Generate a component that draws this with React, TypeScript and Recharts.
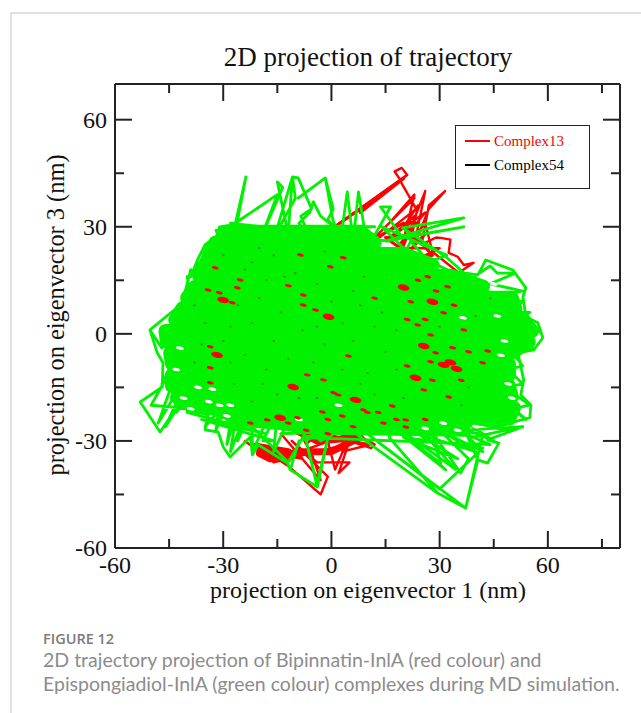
import { ComposedChart, Label, Legend, Line, XAxis, YAxis } from "recharts";

type Pt = [number, number];

const xTicks = [-60, -45, -30, -15, 0, 15, 30, 45, 60, 75];
const yTicks = [-60, -45, -30, -15, 0, 15, 30, 45, 60];

const SERIF = "'Liberation Serif', serif";

// body of the green cloud, read row by row (nearly solid in the picture)
const greenBody: Pt[] = [
  [-29.4, 28.6], [8, 28.6], [12, 25.5], [-32.2, 25.5], [-33.9, 22.4], [20, 22.4],
  [28, 19.3], [-35, 19.3], [-36.7, 16.3], [33, 16.3], [42, 13.2], [-37.8, 13.2],
  [-40, 10.1], [50, 10.1], [51, 7], [-41.4, 7], [-43.3, 3.9], [53.3, 3.9],
  [55.6, 0.8], [-46, 0.8], [-45.6, -2.2], [54.7, -2.2], [50, -5.3], [-44.7, -5.3],
  [-44.2, -8.4], [49.2, -8.4], [49.2, -11.5], [-44.2, -11.5], [-44.2, -14.6], [49.2, -14.6],
  [50, -17.7], [-42.8, -17.7], [-37.2, -20.7], [50.6, -20.7], [49.2, -23.8], [-27.5, -23.8],
  [2, -26.4], [36.7, -26.9],
];

// thin green trajectory: the outline of the cloud, then the spikes and long jumps
const greenTrace: Pt[] = [
  [-50.3, 1.1], [-48.3, -5.3], [-46.7, -8.1], [-46.9, -14.9], [-53, -19.1], [-47.5, -27.5],
  [-43.9, -22.1], [-41.1, -19.9], [-34.4, -22.7], [-35, -26.9], [-31.4, -27.5], [-30, -31.7],
  [-28.1, -34.5], [-22.5, -28.9], [-21.9, -33.9], [-20.3, -31.1], [-12.2, -36.2], [-11.4, -38.1],
  [-3.9, -42.9], [-0.5, -27], [-4, -42], [-8, -26], [-3.9, -42.9], [-11.4, -38.1], [-9, -30],
  [5.3, -26.9], [29.4, -44.6], [37.2, -48.8], [40.6, -35.3], [43.3, -36.2], [46.4, -30.6],
  [43.3, -29.7], [53, -26.1], [44.2, -26.4], [55, -23.5], [55.3, -19.9], [52.5, -17.1],
  [53.3, -12.9], [51.7, -5.3], [56.1, -4.5], [58.6, -1.1], [57.2, 3.1], [53.9, 4.8],
  [53.1, 10.4], [53.9, 12.9], [50.3, 17.9], [42.8, 20.7], [40.6, 16.5], [36.7, 17.1],
  [31.7, 21.6], [19.7, 29.7], [36.7, 32.5], [15, 26], [36.7, 30], [19.7, 27], [13.6, 35.6],
  [16.4, 35.6], [10, 24], [7.5, 39.8], [6, 26], [4.4, 39.8], [2.5, 26], [0.4, 32], [-1.7, 43.7],
  [-9.2, 38], [-1.7, 43.7], [0.5, 35], [-1, 32], [0.7, 30], [-3, 33], [-5, 37], [-6, 34],
  [-9, 31], [-6, 27], [-8.5, 33], [-5.5, 35], [-9.2, 43.7], [-10.8, 44], [-15.6, 27.8],
  [-10, 38], [-10.8, 44], [-12, 28], [-15, 42.6], [-13.5, 41], [-19.2, 27.8], [-15, 39],
  [-26.1, 31.4], [-23.7, 44], [-26.7, 30.6], [-31, 30], [-32, 27], [-28, 30], [-35, 25],
  [-37, 21], [-39, 16], [-40, 16], [-39.5, 13], [-42, 8], [-50.3, 1.1],
  // crossing lines in the lower left
  [-47, -4], [-37, 6], [-47, -14], [-33, -3], [-44, -22], [-30, -9], [-35, -26], [-25, -14],
  [-28, -33], [-22, -18], [-21.9, -33], [-16, -20], [-41, -19.9], [-22, -26], [-12, -36], [-5, -24],
  [-50, -20], [-40, -2], [-48, -25], [-38, -8], [-46, -26], [-36, -10], [-43, -22], [-34, -12],
  [-35, -22], [-30, -12], [-32, -27], [-26, -12], [-29, -31], [-24, -14], [-26, -30], [-20, -16],
  [-44, -10], [-44, 4], [-45, 1], [-41, 10], [-42, 6], [-39, 18], [-38, 17], [-34, 25],
  [-40, -22], [-18, -28], [-36, -24], [-16, -30], [-19, -30], [-15, -22], [-16, -33], [-11, -22],
  // upper edge and right edge fibres
  [-32, 29], [12, 30], [-30, 30], [16, 26], [-28, 31], [24, 22], [30, 19], [38, 15], [44, 19], [46, 17],
  [51, 17], [44, 14], [53, 12], [46, 11], [53, 9], [48, 6], [55, 6], [50, 3], [58, 1], [52, -1],
  [56, -4], [50, -5], [53, -9], [49, -10], [53, -14], [48, -15], [55, -20], [50, -21], [54, -24],
  // lines across the hatched part of the upper middle
  [10, 14], [32, 22], [14, 30], [30, 14], [6, 28], [24, 12], [36, 17], [18, 18], [22, 26], [34, 12],
  // lower right fans
  [16, -29], [29.4, -44.6], [37.2, -48.8], [10, -28], [30, -43.5], [42, -32], [20, -29], [35, -35],
  [24, -28], [40, -33], [30, -27], [42, -28], [37.2, -48.8], [40.6, -35.3], [37, -27], [53, -26],
  [39, -29], [33, -25], [45, -30], [36, -24], [48, -27], [40, -23], [24.7, -26.9], [34.4, -38],
  [19.2, -26.9], [31.7, -38.1], [17.8, -26.9], [30.3, -36.2], [27.5, -26.9], [35.8, -39],
  [38, -35], [30, -27], [42, -33], [37, -28], [44, -31],
  // long jumps along the lower edge
  [-8, -29], [12, -25], [-14, -28], [10, -27], [-20, -26], [8, -23], [-12, -22], [-3, -30], [8, -24],
];

// red trajectory, mostly hidden behind the green one
const redTrace: Pt[] = [
  [-21, -31], [-12, -37], [-3, -45], [-1, -40], [-11, -30], [-4, -36], [5, -36], [2, -39], [5, -30],
  [11, -31], [3, -33], [8, -27], [-6, -32], [-3, -41], [-14, -28], [-8, -35], [-20, -33], [-24, -30],
  [-16, -36], [4, -31], [1, -38], [-2, -26], [-7, -31], [-10, -25], [11, -32], [12, -31], [5, -27],
  [-3.3, 27], [21, 44.6], [19.2, 43], [17.5, 45.5], [19.5, 46.5], [21, 44.5], [19, 43],
  [23.5, 35], [7, 22], [23, 38], [16, 31], [23, 39], [19, 22], [26, 40], [23, 25], [27, 35],
  [31.5, 40], [27, 36], [25, 25], [29, 27], [30.3, 26.9], [33, 26.4], [32.5, 22.7], [35, 21.6],
  [36.7, 19.3], [39.4, 19.9], [35.3, 17.1], [28, 23], [26, 31], [22, 26], [24, 36], [20, 30],
  [23, 33], [15, 26], [26, 34], [18, 24], [30, 24], [24, 21],
];

// thicker red where the strokes merge into a solid patch
const redBody: Pt[] = [
  [-21, -31.5], [-12, -33], [-12, -35], [-20, -33.5], [-17, -35], [-9, -33], [0, -33], [8, -29],
  [-4, -30], [-10, -27], [10, -27], [-14, -26], [4, -24],
];
const redHatch: Pt[] = [
  [3, 22], [20, 31], [28, 22], [8, 17], [30, 16], [15, 27], [26, 28], [12, 13], [28, 20],
  [20, 12], [35, 12], [24, 6], [40, 6], [24, -2], [42, -2], [-3.3, 27], [20, 43.5], [8, 34],
];

// holes in the green cloud where the layer below shows through
const redSpotsLarge: Pt[] = [
  [-31.7, -5.9], [-10.6, -14.9], [25.6, -3.4], [31.1, -8.7], [34.7, -9.8], [23.3, -12.3],
  [6.7, -18.5], [-0.8, 4.8], [-30, 9.5], [-14.2, -23.5], [20, 13], [28, 9], [33, -8],
];
const redSpots: Pt[] = [
  [-32.2, 18.5], [-34.2, 12.3], [-31.1, 11.5], [-27.5, 8.7], [-26.1, 12.9], [-25.3, 15.1],
  [-11.9, 13.5], [-7.8, 10.9], [-7.8, 8.1], [-4.4, 6.7], [-0.3, 18.8], [3.3, 21.3], [-8.6, 22.1],
  [-33.6, -3.6], [-33.6, -9.5], [-33.6, -13.7], [-6.7, -11.5], [-2.2, -12.9], [1.9, -17.1],
  [-2.5, -21.9], [-22.5, -25], [-17.8, -24.1], [-9.4, -23.5], [28.9, -5.3], [27.5, -7.8],
  [25.6, -15.7], [33.6, -3.9], [8.9, -21.3], [16.9, -20.2], [14.4, -25], [20.6, -24.1],
  [20.6, -26.1], [4.7, -6.2], [0.6, -16.5], [32.5, -17.7], [43.3, -4.8], [41.9, -8.1],
  [26.7, 16], [28.3, 8.7], [31.1, 5.9], [27.5, -0.3], [23.9, 2.5],
  [36.7, 1.1], [32.2, 13.2], [12, 10], [22, 9], [10, -22], [3, -23], [-1, -24],
  [6, -26], [13, -22], [18, -24], [26, -24], [21, -9], [28, -13], [36, -13], [38, -5],
  [24, 15], [29, 12], [34, 8], [21, 4], [26, 4], [-7, -27], [-1, -28], [-12, -25],
];
const darkSpecks: Pt[] = [
  [-22, 20], [-16, 22], [-10, 17], [-20, 10], [-14, 6], [-22, 3], [-28, 2], [-35, 3], [-30, -2],
  [-16, -2], [-8, 1], [-2, -3], [3, 3], [8, 8], [12, 2], [6, -2], [-24, -6], [-18, -10], [-12, -7],
  [-5, -8], [3, -10], [10, -11], [15, -5], [18, 1], [40, 5], [44, 10], [30, 2], [38, -15], [-38, -8],
  [-27, -14], [-22, -19], [-15, -17], [-4, -18], [8, -14], [20, -18], [36, -20], [-38, 8], [-30, 22],
  [-4, 14], [9, 16], [-13, 16], [-18, 15], [-24, 18], [-4, 2], [0, 9], [14, 6], [18, -10], [12, -17],
  [-9, -18], [-19, -14], [-28, -8], [-36, -3], [-26, 8], [-20, 24], [-2, 23], [6, 12],
];
const whiteSpots: Pt[] = [
  [36.5, 4.5], [45, 14], [-37, -15], [-33, -15.5],
  [-41, -18], [-39, -21], [-29, -23], [26, -26.5], [31, -25], [47, -6], [-28, -20],
  [49, -14], [50, -18], [-34, -19], [-31, -20], [46, 5], [48, -2], [-40, -24], [35, -27], [40, -26],
  [-43, -10], [-42, -4], [-9, -24], [2, -20],
];

const rows = (pts: Pt[]) => pts.map(([x, y]) => ({ x, y }));

const spot = (fill: string, rx: number, ry: number) => (p: any) => (
  <ellipse
    key={`${p.cx}-${p.cy}`}
    cx={p.cx}
    cy={p.cy}
    rx={rx}
    ry={ry}
    fill={fill}
    transform={`rotate(12 ${p.cx} ${p.cy})`}
  />
);

// ticks point into the frame, every second one is long and carries a number
function FrameTick({ x, y, payload, side }: any) {
  const major = payload.value % 30 === 0;
  const len = major ? 17 : 9;
  const line = { stroke: "#222", strokeWidth: 2 };
  if (side === "bottom") {
    return (
      <g>
        <line x1={x} x2={x} y1={y} y2={y - len} {...line} />
        {major && (
          <text x={x} y={y + 25} textAnchor="middle" fontSize={24} fontFamily={SERIF} fill="#111">
            {payload.value}
          </text>
        )}
      </g>
    );
  }
  if (side === "top") return <line x1={x} x2={x} y1={y} y2={y + len} {...line} />;
  if (side === "right") return <line x1={x} x2={x - len} y1={y} y2={y} {...line} />;
  return (
    <g>
      <line x1={x} x2={x + len} y1={y} y2={y} {...line} />
      {major && (
        <text x={x - 8} y={y + 8} textAnchor="end" fontSize={24} fontFamily={SERIF} fill="#111">
          {payload.value}
        </text>
      )}
    </g>
  );
}

function TrajectoryKey() {
  const item = (color: string, name: string) => (
    <div style={{ display: "flex", alignItems: "center", height: 24 }}>
      <span style={{ width: 25, height: 2, background: color === "#f00" ? "#f00" : "#000", marginRight: 4 }} />
      <span style={{ color, fontFamily: SERIF, fontSize: 15 }}>{name}</span>
    </div>
  );
  return (
    <div
      style={{
        boxSizing: "border-box",
        width: 135,
        height: 64,
        border: "1.5px solid #222",
        background: "#fff",
        padding: "3px 0 0 9px",
      }}
    >
      {item("#f00", "Complex13")}
      {item("#000", "Complex54")}
    </div>
  );
}

export default function App() {
  const axis = {
    type: "number" as const,
    allowDataOverflow: true,
    interval: 0 as const,
    tickSize: 0,
    tickMargin: 0,
    tickLine: false,
    stroke: "#222",
    strokeWidth: 2,
  };
  const lineProps = {
    xAxisId: "b",
    yAxisId: "l",
    type: "linear" as const,
    dataKey: "y",
    dot: false,
    isAnimationActive: false,
    legendType: "none" as const,
    strokeLinejoin: "round" as const,
    strokeLinecap: "round" as const,
  };
  return (
    <div style={{ position: "absolute", left: 0, top: 0, width: 641, height: 713, background: "#fff", overflow: "hidden" }}>
      <div style={{ position: "absolute", left: 10, top: 12, width: 631, height: 701, borderTop: "2px solid #e0e0e0", borderLeft: "2px solid #e0e0e0" }} />
      <ComposedChart
        width={641}
        height={713}
        margin={{ top: 0, right: 0, bottom: 0, left: 0 }}
        style={{ position: "absolute", left: 0, top: 0 }}
      >
        <XAxis
          {...axis}
          xAxisId="b"
          dataKey="x"
          orientation="bottom"
          domain={[-60, 80]}
          ticks={xTicks}
          height={165}
          tick={<FrameTick side="bottom" />}
        >
          <Label
            content={() => (
              <text x={368} y={598} textAnchor="middle" fontSize={24} fontFamily={SERIF} fill="#111">
                projection on eigenvector 1 (nm)
              </text>
            )}
          />
        </XAxis>
        <XAxis
          {...axis}
          xAxisId="t"
          dataKey="x"
          orientation="top"
          domain={[-60, 80]}
          ticks={xTicks}
          height={84}
          tick={<FrameTick side="top" />}
        />
        <YAxis
          {...axis}
          yAxisId="l"
          dataKey="y"
          orientation="left"
          domain={[-60, 70]}
          ticks={yTicks}
          width={115}
          tick={<FrameTick side="left" />}
        >
          <Label
            content={() => (
              <text
                transform="translate(64 315) rotate(-90)"
                textAnchor="middle"
                fontSize={24.4}
                fontFamily={SERIF}
                fill="#111"
              >
                projection on eigenvector 3 (nm)
              </text>
            )}
          />
        </YAxis>
        <YAxis
          {...axis}
          yAxisId="r"
          dataKey="y"
          orientation="right"
          domain={[-60, 70]}
          ticks={yTicks}
          width={21}
          tick={<FrameTick side="right" />}
        />
        <Legend
          content={<TrajectoryKey />}
          layout="vertical"
          align="center"
          verticalAlign="middle"
          wrapperStyle={{ position: "absolute", left: 455, top: 125, width: 135, height: 64 }}
        />
        <Line {...lineProps} name="Complex13 trace" data={rows(redTrace)} stroke="#f00" strokeWidth={2.4} />
        <Line {...lineProps} name="Complex13 body" data={rows(redBody)} stroke="#f00" strokeWidth={7} />
        <Line {...lineProps} name="Complex13 hatch" data={rows(redHatch)} stroke="#f00" strokeWidth={3} />
        <Line {...lineProps} name="Complex54 body" data={rows(greenBody)} stroke="#00f200" strokeWidth={14} />
        <Line {...lineProps} name="Complex54 trace" data={rows(greenTrace)} stroke="#00f200" strokeWidth={2.8} />
        <Line {...lineProps} name="gaps" data={rows(whiteSpots)} stroke="none" dot={spot("#fff", 4, 1.6)} />
        <Line {...lineProps} name="Complex13 spots" data={rows(redSpots)} stroke="none" dot={spot("#f00", 3.4, 1.5)} />
        <Line {...lineProps} name="Complex13 patches" data={rows(redSpotsLarge)} stroke="none" dot={spot("#f00", 6, 3)} />
        <Line {...lineProps} name="specks" data={rows(darkSpecks)} stroke="none" dot={spot("#3d9a10", 1.5, 1)} />
      </ComposedChart>
      <div style={{ position: "absolute", left: 0, width: 736, top: 42, textAlign: "center", fontFamily: SERIF, fontSize: 27, color: "#111", lineHeight: "30px" }}>
        2D projection of trajectory
      </div>
      <div style={{ position: "absolute", left: 43, top: 629, fontFamily: "'Open Sans', sans-serif", fontWeight: 600, fontSize: 14.5, color: "#7a7a7a" }}>
        FIGURE 12
      </div>
      <div style={{ position: "absolute", left: 43, top: 648, width: 590, fontFamily: "Lato, sans-serif", fontSize: 19.5, lineHeight: "24px", color: "#8c8c8c", whiteSpace: "nowrap" }}>
        2D trajectory projection of Bipinnatin-InlA (red colour) and
        <br />
        Epispongiadiol-InlA (green colour) complexes during MD simulation.
      </div>
    </div>
  );
}
